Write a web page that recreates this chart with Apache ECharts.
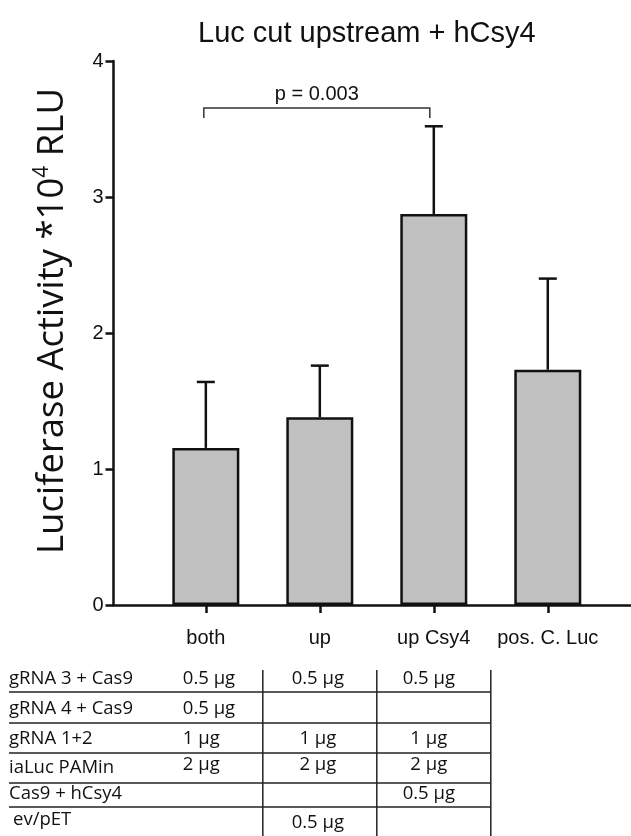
<!DOCTYPE html>
<html>
<head>
<meta charset="utf-8">
<script src="https://cdn.jsdelivr.net/npm/echarts@6/dist/echarts.min.js"></script>
<style>html,body{margin:0;padding:0;background:#fff;}#c{width:631px;height:836px;}</style>
</head>
<body>
<div id="c"></div>
<script>
// ---- data ----
const categories = ['both', 'up', 'up Csy4', 'pos. C. Luc'];
const means = [1.155, 1.38, 2.875, 1.73];
const sdUpper = [0.485, 0.38, 0.645, 0.67];
const yTicks = [0, 1, 2, 3, 4];
const pLabel = 'p = 0.003';
const bracketFrom = 0, bracketTo = 2, bracketY = 3.655, bracketDrop = 0.075;
const rowLabels = ['gRNA 3 + Cas9', 'gRNA 4 + Cas9', 'gRNA 1+2', 'iaLuc PAMin', 'Cas9 + hCsy4', 'ev/pET'];
const tableValues = [
  ['0.5 µg', '0.5 µg', '0.5 µg'],
  ['0.5 µg', '', ''],
  ['1 µg', '1 µg', '1 µg'],
  ['2 µg', '2 µg', '2 µg'],
  ['', '', '0.5 µg'],
  ['', '0.5 µg', '']
];

const chart = echarts.init(document.getElementById('c'), null, {renderer: 'canvas'});
const catIdx = categories.map((c, i) => i);

const option = {
  backgroundColor: '#fff',
  animation: false,
  title: {
    text: 'Luc cut upstream + hCsy4',
    left: 198, top: 19, padding: 0,
    textStyle: {fontFamily: 'Liberation Sans', fontSize: 29, fontWeight: 'normal', color: '#111'}
  },
  grid: {left: 113.5, right: 0, top: 61, bottom: 231, containLabel: false},
  xAxis: {
    type: 'value', min: -0.81, max: 3.73,
    splitLine: {show: false},
    axisLine: {show: true, onZero: false, lineStyle: {color: '#111', width: 2.5}},
    axisTick: {show: true, customValues: catIdx, length: 8, lineStyle: {color: '#111', width: 2.5}},
    axisLabel: {
      customValues: catIdx, margin: 23,
      formatter: v => categories[Math.round(v)] || '',
      fontFamily: 'Liberation Sans', fontSize: 20, color: '#111'
    }
  },
  yAxis: {
    type: 'value', min: 0, max: 4, interval: 1,
    splitLine: {show: false},
    axisLine: {show: true, onZero: false, lineStyle: {color: '#111', width: 2.5}},
    axisTick: {show: true, length: 8, lineStyle: {color: '#111', width: 2.5}},
    axisLabel: {margin: 10, fontFamily: 'Liberation Sans', fontSize: 20, color: '#111',
      formatter: v => yTicks.includes(v) ? String(v) : ''},
    name: '{m|Luciferase Activity *10}{s|4}{m| RLU}',
    nameLocation: 'middle', nameGap: 40, nameRotate: 90,
    nameTextStyle: {
      padding: [0, 0, 0, 24],
      rich: {
        m: {fontFamily: 'Open Sans', fontSize: 36.5, color: '#111', lineHeight: 42},
        s: {fontFamily: 'Open Sans', fontSize: 21, color: '#111', lineHeight: 42, verticalAlign: 'top', padding: [0, 0, 13, 0]}
      }
    }
  },
  series: [
    {
      type: 'bar',
      data: means.map((v, i) => [i, v]),
      barWidth: 67,
      itemStyle: {color: '#c0c0c0', borderColor: '#111', borderWidth: 2.5},
      z: 3
    },
    {
      type: 'custom',
      data: means.map((v, i) => [i, v, v + sdUpper[i]]),
      z: 2,
      renderItem: (params, api) => {
        const x = api.value(0);
        const p0 = api.coord([x, api.value(1)]);
        const p1 = api.coord([x, api.value(2)]);
        const cap = 9;
        return {
          type: 'group',
          children: [
            {type: 'line', shape: {x1: p0[0], y1: p0[1], x2: p1[0], y2: p1[1]}, style: {stroke: '#111', lineWidth: 2.5}},
            {type: 'line', shape: {x1: p1[0] - cap, y1: p1[1], x2: p1[0] + cap, y2: p1[1]}, style: {stroke: '#111', lineWidth: 2.5}}
          ]
        };
      }
    },
    {
      type: 'custom',
      data: [[bracketFrom, bracketTo, bracketY, bracketY - bracketDrop]],
      z: 4,
      renderItem: (params, api) => {
        const a = api.coord([api.value(0), api.value(2)]);
        const b = api.coord([api.value(1), api.value(2)]);
        const yd = api.coord([api.value(0), api.value(3)])[1];
        return {
          type: 'group',
          children: [
            {type: 'polyline', shape: {points: [[a[0] - 2, yd], [a[0] - 2, a[1]], [b[0] - 4, b[1]], [b[0] - 4, yd]]},
              style: {stroke: '#333', lineWidth: 1.5, fill: null}},
            {type: 'text', x: (a[0] + b[0]) / 2 - 3, y: a[1] - 3,
              style: {text: pLabel, fontFamily: 'Liberation Sans', fontSize: 20, fill: '#111', align: 'center', verticalAlign: 'bottom'}}
          ]
        };
      }
    }
  ]
};
chart.setOption(option);

// ---- table under the chart (columns aligned to category positions) ----
const px = v => chart.convertToPixel({xAxisIndex: 0}, v);
const rowCenters = [679, 709, 738.5, 768, 794, 820];
const valueShift = [0, 0, 0, -3, 0, 3];
const lineYs = [692, 723, 753, 783, 807];
const tableLeft = 9;
const tableRight = px(categories.length - 1.5);
const g = [];
const tFont = {fontFamily: 'Open Sans', fontSize: 18.5, fill: '#111', verticalAlign: 'middle'};
rowLabels.forEach((lab, r) => {
  g.push({type: 'text', x: tableLeft + (r === 5 ? 4 : 0), y: rowCenters[r],
    style: Object.assign({text: lab, align: 'left'}, tFont)});
  tableValues[r].forEach((val, c) => {
    if (!val) return;
    const x = c === 0 ? px(0) - 23 : px(c) + (c === 1 ? -2 : -5);
    g.push({type: 'text', x: x, y: rowCenters[r] + valueShift[r],
      style: Object.assign({text: val, align: c === 0 ? 'left' : 'center'}, tFont)});
  });
});
lineYs.forEach(y => {
  g.push({type: 'line', shape: {x1: tableLeft, y1: y, x2: tableRight, y2: y}, style: {stroke: '#222', lineWidth: 1.5}});
});
[0.5, 1.5, 2.5].forEach(v => {
  const x = px(v);
  g.push({type: 'line', shape: {x1: x, y1: 670, x2: x, y2: 836}, style: {stroke: '#222', lineWidth: 1.5}});
});
chart.setOption({graphic: g});
</script>
</body>
</html>
